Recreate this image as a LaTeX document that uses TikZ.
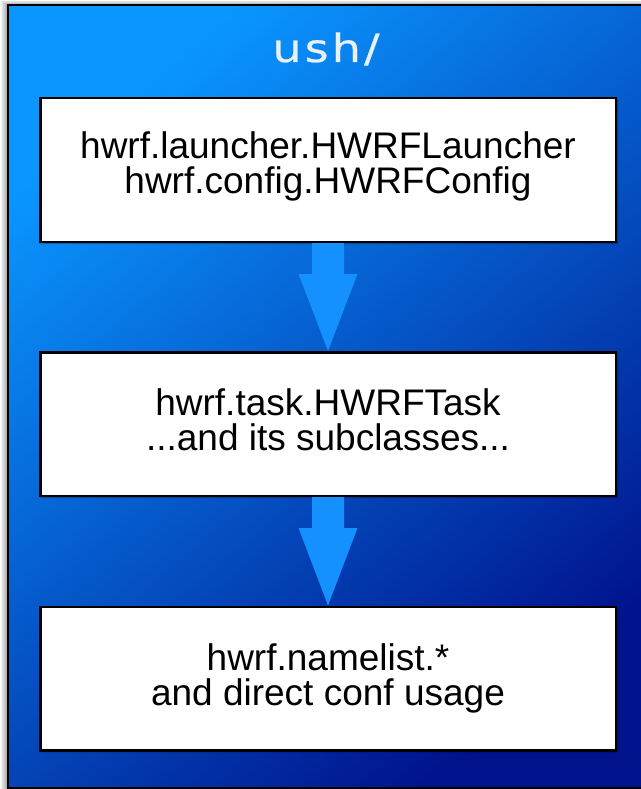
\documentclass[tikz,border=0pt]{standalone}
\usepackage{fontspec}
\setmainfont{Liberation Sans}
\newfontfamily\titlefont[FakeStretch=1.18,LetterSpace=8,FakeBold=0.6]{DejaVu Sans}
\usetikzlibrary{calc,shadows.blur}
\definecolor{bgtop}{RGB}{10,150,255}
\definecolor{bgbot}{RGB}{0,18,140}
\definecolor{arrowblue}{RGB}{20,145,255}
\definecolor{titlewhite}{RGB}{232,240,248}

% block arrow from the bottom of one box to the top of the next
\newcommand\flowarrow[2]{%
  \fill[flow] ($(#1.south)+(-16,0)$) -- ($(#1.south)+(16,0)$)
    -- ($(#1.south)+(16,31)$) -- ($(#1.south)+(29.5,31)$)
    -- (#2.north)
    -- ($(#1.south)+(-29.5,31)$) -- ($(#1.south)+(-16,31)$) -- cycle;}

\begin{document}
\begin{tikzpicture}[x=1pt,y=-1pt,
  panel/.style={draw=black, line width=2pt},
  stagebox/.style={draw=black, fill=white, line width=2.5pt,
    minimum width=575.5pt, minimum height=143.5pt, inner sep=0pt,
    blur shadow={shadow xshift=1.5pt, shadow yshift=-1.5pt,
      shadow blur radius=1.5pt, shadow opacity=40}},
  boxtext/.style={font=\fontsize{37}{35}\selectfont, anchor=base, inner sep=0pt},
  flow/.style={fill=arrowblue}]
\useasboundingbox (0,0) rectangle (640,789);
\fill[white] (0,0) rectangle (640,789);

% soft shadow along the top and left of the panel
\foreach \i in {1,...,7}
  \fill[black, opacity=0.055] ($(8,5)+(-\i,-0.6*\i)$) rectangle (660,790);

% gradient panel
\shade[top color=bgtop, bottom color=bgbot, shading angle=40] (8,5) rectangle (660,788);
\draw[panel] (8,5) rectangle (660,788);

\node[font=\titlefont\fontsize{39}{39}\selectfont, text=titlewhite,
  anchor=base, inner sep=0pt] (title) at (326,62) {ush/};

% the three stages
\node[stagebox] (b1) at (328,170) {};
\node[stagebox] (b2) at (328,424) {};
\node[stagebox] (b3) at (328,678.5) {};

\node[boxtext] (b1a) at ($(b1.center)+(0,-12)$) {hwrf.launcher.HWRFLauncher};
\node[boxtext] (b1b) at ($(b1.center)+(0,23)$) {hwrf.config.HWRFConfig};
\node[boxtext] (b2a) at ($(b2.center)+(0,-9)$) {hwrf.task.HWRFTask};
\node[boxtext] (b2b) at ($(b2.center)+(0,26)$) {...and its subclasses...};
\node[boxtext] (b3a) at ($(b3.center)+(0,-8.5)$) {hwrf.namelist.*};
\node[boxtext] (b3b) at ($(b3.center)+(0,26.5)$) {and direct conf usage};

\flowarrow{b1}{b2}
\flowarrow{b2}{b3}
\end{tikzpicture}
\end{document}
